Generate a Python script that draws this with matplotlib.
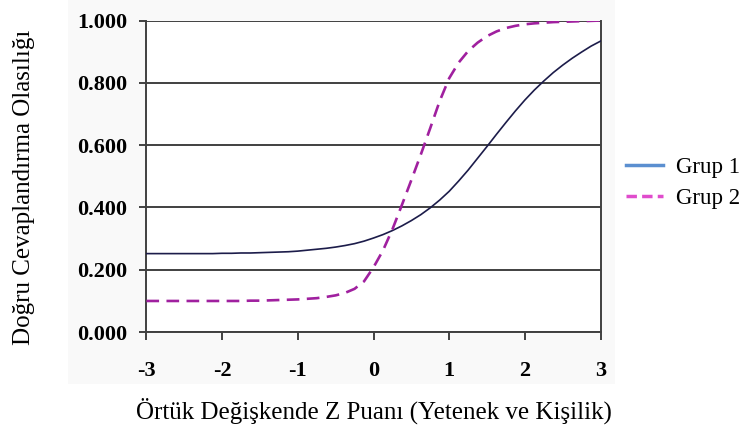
import matplotlib.pyplot as plt
from matplotlib.lines import Line2D
from matplotlib.patches import Rectangle

# Z puanları (x ekseni, 0.125 adım) ve grafikten okunan olasılık değerleri
z = [-3.0, -2.875, -2.75, -2.625, -2.5, -2.375, -2.25, -2.125,
     -2.0, -1.875, -1.75, -1.625, -1.5, -1.375, -1.25, -1.125,
     -1.0, -0.875, -0.75, -0.625, -0.5, -0.375, -0.25, -0.125,
     0.0, 0.125, 0.25, 0.375, 0.5, 0.625, 0.75, 0.875,
     1.0, 1.125, 1.25, 1.375, 1.5, 1.625, 1.75, 1.875,
     2.0, 2.125, 2.25, 2.375, 2.5, 2.625, 2.75, 2.875, 3.0]

grup1 = [0.252, 0.252, 0.252, 0.252, 0.252, 0.252, 0.252, 0.252,
         0.253, 0.253, 0.254, 0.254, 0.255, 0.256, 0.257, 0.258,
         0.260, 0.263, 0.266, 0.269, 0.273, 0.278, 0.284, 0.292,
         0.302, 0.313, 0.326, 0.341, 0.358, 0.377, 0.399, 0.424,
         0.452, 0.485, 0.520, 0.558, 0.596, 0.635, 0.673, 0.710,
         0.745, 0.777, 0.806, 0.833, 0.857, 0.879, 0.899, 0.918, 0.934]

grup2 = [0.100, 0.100, 0.100, 0.100, 0.100, 0.100, 0.100, 0.100,
         0.100, 0.100, 0.100, 0.101, 0.101, 0.102, 0.103, 0.104,
         0.105, 0.107, 0.109, 0.113, 0.118, 0.126, 0.139, 0.163,
         0.208, 0.262, 0.330, 0.408, 0.488, 0.570, 0.655, 0.742,
         0.815, 0.865, 0.902, 0.929, 0.950, 0.965, 0.976, 0.983,
         0.988, 0.991, 0.993, 0.995, 0.996, 0.997, 0.998, 0.999, 1.000]

yticks = [0.0, 0.2, 0.4, 0.6, 0.8, 1.0]
xticks = [-3, -2, -1, 0, 1, 2, 3]
legend_labels = ["Grup 1", "Grup 2"]

plt.rcParams['font.family'] = ['Liberation Serif', 'DejaVu Serif']

fig = plt.figure(figsize=(7.47, 4.28), dpi=100)
# hafif gri arka plan
bg = Rectangle((68 / 747, 1 - 384 / 428), (615 - 68) / 747, 384 / 428,
               transform=fig.transFigure, facecolor='#f9f9f9', edgecolor='none', zorder=-5)
fig.patches.append(bg)
ax = fig.add_axes([0.196, 0.224, 0.608, 0.728])
ax.set_zorder(1)
ax.set_facecolor('white')

grid_col = '#404040'
for v in yticks:
    ax.axhline(v, color=grid_col, lw=1.4, zorder=1)

ax.plot(z, grup1, color='#1c1c4a', lw=1.2, zorder=3)
ax.plot(z, grup2, color='#a0209f', lw=1.9, dashes=(4.8, 2.8), zorder=3)

ax.set_xlim(-3, 3)
ax.set_ylim(0, 1.0)
ax.set_xticks(xticks)
ax.set_yticks(yticks)
ax.set_xticklabels([str(t) for t in xticks], fontweight='bold', fontsize=16)
ax.set_yticklabels(['%.3f' % t for t in yticks], fontweight='bold', fontsize=16)
ax.tick_params(axis='x', direction='out', length=6, width=1.4, color=grid_col, pad=15)
ax.tick_params(axis='y', direction='out', length=5, width=1.4, color=grid_col, pad=9)

for side in ['left', 'right', 'bottom']:
    ax.spines[side].set_color(grid_col)
    ax.spines[side].set_linewidth(1.4)
ax.spines['top'].set_visible(False)

ax.set_xlabel("Örtük Değişkende Z Puanı (Yetenek ve Kişilik)", fontsize=18)
ax.set_ylabel("Doğru Cevaplandırma Olasılığı", fontsize=18)
ax.xaxis.set_label_coords(0.5, -0.21)
ax.yaxis.set_label_coords(-0.245, 0.464)

handles = [Line2D([0], [0], color='#5b8fd0', lw=2.5),
           Line2D([0], [0], color='#e04ccc', lw=2.5, dashes=(3, 1.5))]
fig.legend(handles, legend_labels, loc='center left', bbox_to_anchor=(0.838, 0.572),
           frameon=False, fontsize=16.5, handlelength=1.6, handletextpad=0.6,
           labelspacing=0.45, borderpad=0, borderaxespad=0)

fig.savefig('out.png', dpi=100)
